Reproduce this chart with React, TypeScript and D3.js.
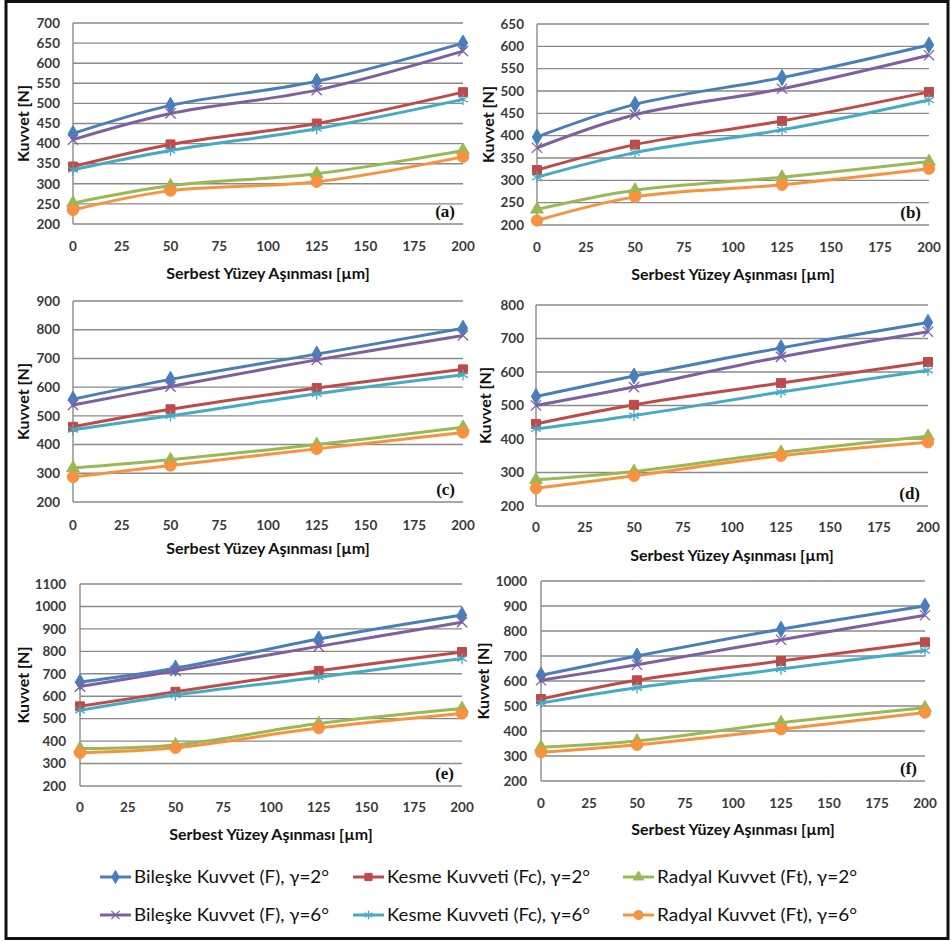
import React from 'react';
import * as d3 from 'd3';

// x positions (flank wear, µm)
const wear = [0, 50, 125, 200];
const xTicks = [0, 25, 50, 75, 100, 125, 150, 175, 200];

const seriesNames = [
  'Bileşke Kuvvet (F), γ=2°',
  'Kesme Kuvveti (Fc), γ=2°',
  'Radyal Kuvvet (Ft), γ=2°',
  'Bileşke Kuvvet (F), γ=6°',
  'Kesme Kuvveti (Fc), γ=6°',
  'Radyal Kuvvet (Ft), γ=6°',
];

// order: F2, Fc2, Ft2, F6, Fc6, Ft6
const panelA = [
  [425, 495, 555, 650],
  [343, 398, 450, 528],
  [252, 295, 325, 383],
  [410, 475, 533, 630],
  [335, 383, 437, 510],
  [235, 283, 305, 367],
];
const panelB = [
  [397, 470, 530, 603],
  [323, 380, 433, 498],
  [235, 278, 307, 342],
  [373, 447, 505, 580],
  [307, 362, 413, 480],
  [210, 263, 290, 326],
];
const panelC = [
  [558, 627, 715, 805],
  [462, 523, 597, 662],
  [318, 347, 400, 460],
  [538, 602, 695, 780],
  [452, 500, 577, 643],
  [287, 327, 385, 442],
];
const panelD = [
  [527, 588, 672, 748],
  [445, 502, 567, 630],
  [278, 303, 360, 408],
  [500, 555, 645, 720],
  [430, 470, 540, 605],
  [253, 290, 350, 390],
];
const panelE = [
  [663, 725, 855, 962],
  [555, 620, 713, 797],
  [367, 383, 478, 545],
  [643, 713, 822, 930],
  [537, 605, 685, 768],
  [348, 370, 458, 523],
];
const panelF = [
  [623, 700, 807, 900],
  [528, 603, 680, 755],
  [335, 360, 433, 493],
  [603, 665, 765, 863],
  [512, 573, 648, 722],
  [315, 345, 407, 474],
];

const panelLabels = ['(a)', '(b)', '(c)', '(d)', '(e)', '(f)'];
const yMax = [700, 650, 900, 800, 1100, 1000];
const yStep = [50, 50, 100, 100, 100, 100];
const yMin = 200;

const colors = ['#4a7ebb', '#be4b48', '#98b954', '#7d60a0', '#46aac5', '#f69240'];
const symbols = [d3.symbolDiamond, d3.symbolSquare, d3.symbolTriangle, d3.symbolX, d3.symbolAsterisk, d3.symbolCircle];
const symbolSizes = [75, 80, 70, 70, 90, 100];

// layout of each sub chart
const layout = [
  { left: 73, right: 463, top: 23, bottom: 224, yTitleX: 23, tickRight: 60, xTickY: 246, xTitleY: 273 },
  { left: 537, right: 929, top: 24, bottom: 225, yTitleX: 488, tickRight: 524, xTickY: 247, xTitleY: 274 },
  { left: 73, right: 463, top: 301, bottom: 502, yTitleX: 23, tickRight: 60, xTickY: 525, xTitleY: 548 },
  { left: 536, right: 928, top: 305, bottom: 506, yTitleX: 485, tickRight: 524, xTickY: 527, xTitleY: 555 },
  { left: 80, right: 462, top: 584, bottom: 786, yTitleX: 23, tickRight: 66, xTickY: 807, xTitleY: 834 },
  { left: 541, right: 925, top: 581, bottom: 781, yTitleX: 483, tickRight: 527, xTickY: 803, xTitleY: 829 },
];

const panels = [panelA, panelB, panelC, panelD, panelE, panelF];
const font = 'Lato, "Open Sans", sans-serif';

function Marker({ i, x, y, scale = 1 }: { i: number; x: number; y: number; scale?: number }) {
  const path = d3.symbol().type(symbols[i]).size(symbolSizes[i] * scale)() as string;
  const stroked = i === 3 || i === 4;
  return (
    <path
      d={path}
      transform={`translate(${x},${y})`}
      fill={stroked ? 'none' : colors[i]}
      stroke={colors[i]}
      strokeWidth={stroked ? 1.3 : 1}
    />
  );
}

function Panel({ idx }: { idx: number }) {
  const g = layout[idx];
  const data = panels[idx];
  const x = d3.scaleLinear().domain([0, 200]).range([g.left, g.right]);
  const y = d3.scaleLinear().domain([yMin, yMax[idx]]).range([g.bottom, g.top]);
  const yTicks = d3.range(yMin, yMax[idx] + 1, yStep[idx]);
  const line = d3
    .line<number>()
    .x((_, k) => x(wear[k]))
    .y((v) => y(v))
    .curve(d3.curveCatmullRom);
  const midY = (g.top + g.bottom) / 2;

  return (
    <g>
      {yTicks.map((t) => (
        <g key={t}>
          <line x1={g.left} x2={g.right} y1={y(t)} y2={y(t)} stroke="#8a8a8a" strokeWidth={1.4} />
          <text
            x={g.tickRight}
            y={y(t)}
            dy="0.35em"
            textAnchor="end"
            fontFamily={font}
            fontWeight="bold"
            fontSize={13.5}
            fill="#3a3a3a"
          >
            {t}
          </text>
        </g>
      ))}
      <line x1={g.left} x2={g.left} y1={g.top} y2={g.bottom} stroke="#8a8a8a" strokeWidth={1.4} />
      {xTicks.map((t) => (
        <text
          key={t}
          x={x(t)}
          y={g.xTickY}
          dy="0.35em"
          textAnchor="middle"
          fontFamily={font}
          fontWeight="bold"
          fontSize={13.5}
          fill="#3a3a3a"
        >
          {t}
        </text>
      ))}
      <text
        x={(g.left + g.right) / 2}
        y={g.xTitleY}
        dy="0.35em"
        textAnchor="middle"
        fontFamily={font}
        fontWeight="bold"
        fontSize={16}
        fill="#111"
      >
        Serbest Yüzey Aşınması [µm]
      </text>
      <text
        transform={`translate(${g.yTitleX},${midY}) rotate(-90)`}
        dy="0.35em"
        textAnchor="middle"
        fontFamily={font}
        fontWeight="bold"
        fontSize={16}
        fill="#111"
      >
        Kuvvet [N]
      </text>
      {data.map((vals, s) => (
        <g key={s}>
          <path d={line(vals) as string} fill="none" stroke={colors[s]} strokeWidth={3} />
          {vals.map((v, k) => (
            <Marker key={k} i={s} x={x(wear[k])} y={y(v)} />
          ))}
        </g>
      ))}
      <text
        x={g.right - 8}
        y={g.bottom - 7}
        textAnchor="end"
        fontFamily='"Liberation Serif", "Times New Roman", serif'
        fontWeight="bold"
        fontSize={17}
        fill="#111"
      >
        {panelLabels[idx]}
      </text>
    </g>
  );
}

// legend placement
const legendCols = [100, 353, 623];
const legendRows = [877, 915];
const legendTextWidth = [195, 203, 200];

export default function App() {
  return (
    <svg
      width={951}
      height={942}
      style={{ position: 'absolute', left: 0, top: 0, background: '#fff' }}
    >
      <rect x={0} y={0} width={951} height={942} fill="#fff" />
      <rect x={6} y={1.5} width={942} height={937} fill="none" stroke="#111" strokeWidth={3} />
      {panels.map((_, i) => (
        <Panel key={i} idx={i} />
      ))}
      {seriesNames.map((name, i) => {
        const col = i % 3;
        const row = Math.floor(i / 3);
        const x0 = legendCols[col];
        const yy = legendRows[row];
        return (
          <g key={name}>
            <line x1={x0} x2={x0 + 31} y1={yy} y2={yy} stroke={colors[i]} strokeWidth={3} />
            <Marker i={i} x={x0 + 15.5} y={yy} scale={0.65} />
            <text
              x={x0 + 34}
              y={yy}
              dy="0.35em"
              fontFamily={font}
              fontSize={18}
              fill="#111"
              textLength={legendTextWidth[col]}
              lengthAdjust="spacingAndGlyphs"
            >
              {name}
            </text>
          </g>
        );
      })}
    </svg>
  );
}
